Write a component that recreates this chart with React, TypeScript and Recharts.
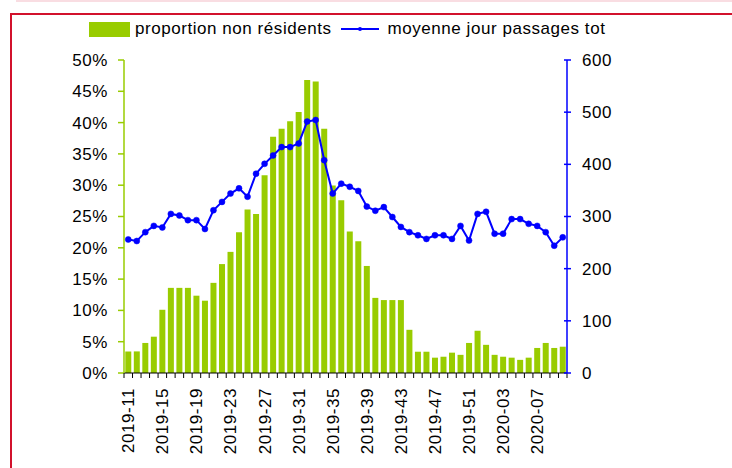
import { ComposedChart, Bar, Line, XAxis, YAxis } from "recharts";

// weekly categories (ISO weeks)
const weeks = [
  "2019-11", "2019-12", "2019-13", "2019-14", "2019-15", "2019-16", "2019-17", "2019-18",
  "2019-19", "2019-20", "2019-21", "2019-22", "2019-23", "2019-24", "2019-25", "2019-26",
  "2019-27", "2019-28", "2019-29", "2019-30", "2019-31", "2019-32", "2019-33", "2019-34",
  "2019-35", "2019-36", "2019-37", "2019-38", "2019-39", "2019-40", "2019-41", "2019-42",
  "2019-43", "2019-44", "2019-45", "2019-46", "2019-47", "2019-48", "2019-49", "2019-50",
  "2019-51", "2019-52", "2020-01", "2020-02", "2020-03", "2020-04", "2020-05", "2020-06",
  "2020-07", "2020-08", "2020-09", "2020-10",
];

// proportion non résidents (%)
const nonResidents = [
  3.45, 3.45, 4.8, 5.8, 10.1, 13.6, 13.6, 13.6, 12.35, 11.55, 14.4, 17.4, 19.35,
  22.5, 26.1, 25.4, 31.6, 37.75, 39.0, 40.2, 41.7, 46.8, 46.55, 39.0, 29.95, 27.6,
  22.6, 21.05, 17.1, 12.0, 11.65, 11.65, 11.65, 6.9, 3.4, 3.4, 2.45, 2.6, 3.25,
  2.9, 4.8, 6.75, 4.5, 2.9, 2.6, 2.45, 2.1, 2.45, 4.0, 4.8, 4.0, 4.2,
];

// moyenne jour passages tot
const passages = [
  256, 253, 270, 282, 279, 305, 302, 293, 293, 276, 312, 328, 344, 354, 338, 382,
  401, 417, 433, 433, 440, 482, 485, 408, 344, 363, 357, 349, 319, 311, 318, 299,
  280, 270, 264, 257, 264, 264, 257, 282, 254, 305, 309, 267, 267, 295, 295, 286,
  282, 270, 244, 260,
];

const pctTicks = [0, 0.05, 0.1, 0.15, 0.2, 0.25, 0.3, 0.35, 0.4, 0.45, 0.5];
const countTicks = [0, 100, 200, 300, 400, 500, 600];

const data = weeks.map((w, i) => ({
  week: w,
  share: nonResidents[i] / 100,
  passages: passages[i],
}));

const GREEN = "#99cc00";
const BLUE = "#0000ff";
const FONT = "'Liberation Sans', Arial, sans-serif";
const SPACING = 0.55; // the original text is a bit wider than Liberation Sans
const PLOT_W = 443;
const STEP = PLOT_W / weeks.length;

function WeekTick(props: any) {
  const { x, y, index } = props;
  const left = x - STEP / 2;
  return (
    <g>
      <line x1={left} y1={y} x2={left} y2={y + 5} stroke="#000" strokeWidth={1} />
      {index === weeks.length - 1 && (
        <line x1={x + STEP / 2} y1={y} x2={x + STEP / 2} y2={y + 5} stroke="#000" strokeWidth={1} />
      )}
      {index % 4 === 0 && (
        <text
          x={x}
          y={y + 15}
          transform={`rotate(-90 ${x} ${y + 15})`}
          textAnchor="end"
          dy="0.35em"
          fontSize={17}
          fontFamily={FONT}
          letterSpacing={SPACING}
          fill="#000"
        >
          {props.payload.value}
        </text>
      )}
    </g>
  );
}

function LeftTick(props: any) {
  const { x, y, payload } = props;
  return (
    <text
      x={x}
      y={y}
      dy="0.35em"
      textAnchor="end"
      fontSize={17}
      fontFamily={FONT}
      letterSpacing={SPACING}
      fill="#000"
    >
      {`${Math.round(payload.value * 100)}%`}
    </text>
  );
}

function RightTick(props: any) {
  const { x, y, payload } = props;
  return (
    <g>
      <line x1={x - 3} y1={y} x2={x + 4} y2={y} stroke={BLUE} strokeWidth={1.5} />
      <text
        x={x + 15}
        y={y}
        dy="0.35em"
        fontSize={17}
        fontFamily={FONT}
        letterSpacing={SPACING}
        fill="#000"
      >
        {payload.value}
      </text>
    </g>
  );
}

export default function App() {
  return (
    <div
      style={{
        position: "absolute",
        left: 0,
        top: 0,
        width: 732,
        height: 468,
        overflow: "hidden",
        background: "#fff",
        fontFamily: FONT,
      }}
    >
      <div style={{ position: "absolute", left: 16, top: 0, width: 740, height: 2, background: "#f9dde2" }} />
      <div
        style={{
          position: "absolute",
          left: 10,
          top: 13,
          width: 800,
          height: 600,
          border: "2px solid #d2112c",
        }}
      />

      {/* legend */}
      <div
        style={{
          position: "absolute",
          left: 89,
          top: 18,
          height: 22,
          display: "flex",
          alignItems: "center",
          fontSize: 17,
          letterSpacing: SPACING,
          color: "#000",
          whiteSpace: "nowrap",
        }}
      >
        <span style={{ width: 41, height: 15, background: GREEN, display: "inline-block" }} />
        <span style={{ marginLeft: 5 }}>proportion non résidents</span>
        <svg width={40} height={10} style={{ marginLeft: 9 }}>
          <line x1={0} y1={5} x2={38} y2={5} stroke={BLUE} strokeWidth={2} />
          <circle cx={19} cy={5} r={2} fill={BLUE} />
        </svg>
        <span style={{ marginLeft: 7 }}>moyenne jour passages tot</span>
      </div>

      <div style={{ position: "absolute", left: 0, top: 0 }}>
        <ComposedChart
          width={732}
          height={468}
          data={data}
          margin={{ top: 60, right: 105, bottom: 0, left: 0 }}
          barCategoryGap="15%"
        >
          <XAxis
            dataKey="week"
            interval={0}
            height={95}
            stroke="#000"
            tickLine={false}
            tickSize={0}
            tickMargin={0}
            tick={<WeekTick />}
          />
          <YAxis
            yAxisId="left"
            domain={[0, 0.5]}
            ticks={pctTicks}
            width={124}
            stroke={GREEN}
            strokeWidth={1.5}
            tickSize={6}
            tickMargin={10}
            tick={<LeftTick />}
          />
          <YAxis
            yAxisId="right"
            orientation="right"
            domain={[0, 600]}
            ticks={countTicks}
            width={60}
            stroke={BLUE}
            strokeWidth={1.5}
            tickLine={false}
            tickSize={0}
            tickMargin={0}
            tick={<RightTick />}
          />
          <Bar yAxisId="left" dataKey="share" fill={GREEN} isAnimationActive={false} />
          <Line
            yAxisId="right"
            dataKey="passages"
            stroke={BLUE}
            strokeWidth={2}
            dot={{ r: 3, fill: BLUE, stroke: BLUE, strokeWidth: 0.5 }}
            activeDot={false}
            isAnimationActive={false}
          />
        </ComposedChart>
      </div>
    </div>
  );
}
